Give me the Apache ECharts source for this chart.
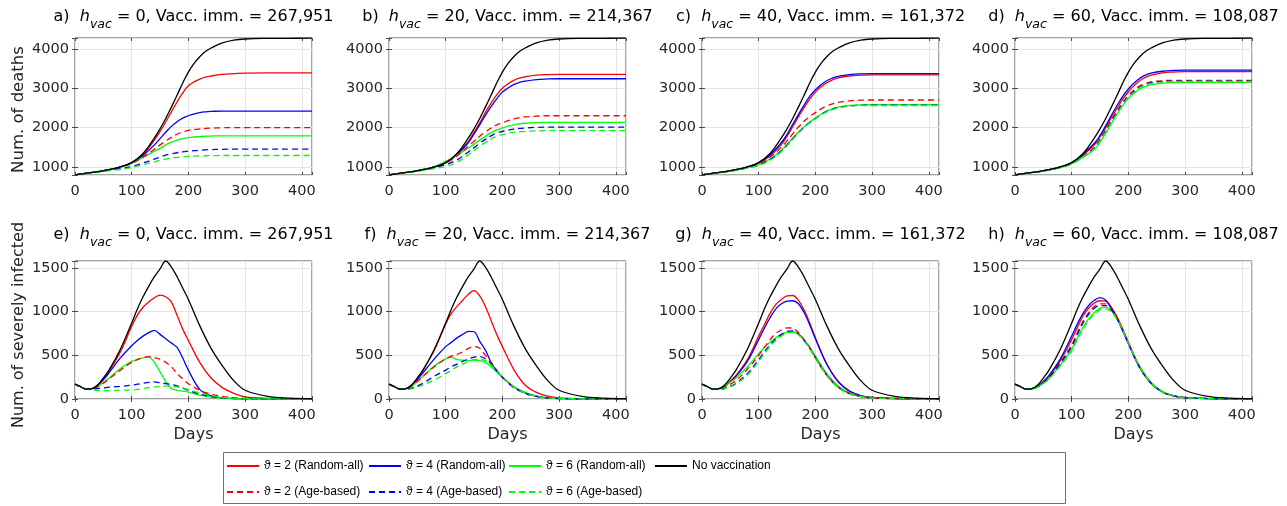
<!DOCTYPE html>
<html><head><meta charset="utf-8">
<script src="https://cdn.jsdelivr.net/npm/echarts@6/dist/echarts.min.js"></script>
<style>html,body{margin:0;padding:0;background:#fff}#c{width:1287px;height:506px}</style>
</head><body><div id="c"></div>
<script>
// ---------- data ----------
const DAYS_D = [0,20,40,60,80,100,120,140,150,160,170,180,190,200,210,220,230,240,260,280,300,340,380,418];
const DAYS_I = [0,10,20,30,40,50,60,80,100,110,120,130,140,150,160,170,180,190,200,220,240,260,280,300,340,380,418];

const noVacDeaths = [800,840,880,930,1000,1110,1340,1740,1970,2230,2520,2820,3130,3410,3630,3800,3930,4020,4150,4220,4250,4265,4268,4270];
const noVacInf = [170,140,112,118,160,240,330,570,870,1030,1170,1290,1400,1490,1580,1510,1400,1270,1140,840,580,380,210,100,30,10,3];

const dA_R2 = [800,840,880,930,1000,1110,1310,1680,1900,2140,2400,2650,2880,3060,3160,3230,3280,3310,3350,3370,3385,3390,3390,3390];
const dA_R4 = [800,840,880,930,1000,1110,1290,1560,1720,1880,2030,2150,2240,2300,2345,2380,2400,2410,2420,2420,2420,2420,2420,2420];
const dA_R6 = [800,840,880,925,990,1090,1240,1400,1470,1560,1630,1680,1720,1745,1760,1770,1779,1785,1790,1790,1790,1790,1790,1790];
const dA_A2 = [800,840,880,925,990,1090,1250,1450,1560,1660,1750,1830,1890,1930,1950,1965,1977,1985,1995,2000,2000,2000,2000,2000];
const dA_A4 = [800,840,875,915,955,1010,1100,1200,1250,1300,1335,1360,1385,1400,1414,1425,1434,1440,1448,1450,1450,1450,1450,1450];
const dA_A6 = [800,835,870,905,935,985,1060,1130,1170,1200,1225,1240,1255,1265,1273,1280,1284,1287,1290,1290,1290,1290,1290,1290];

const dB_R2 = [800,840,880,930,1000,1110,1320,1650,1880,2120,2380,2620,2830,3000,3110,3200,3255,3290,3330,3345,3350,3350,3350,3350];
const dB_R4 = [800,840,880,930,1000,1110,1310,1620,1840,2070,2310,2530,2730,2900,3005,3090,3145,3180,3220,3235,3240,3240,3240,3240];
const dB_R6 = [800,840,880,935,1010,1140,1300,1480,1580,1680,1780,1870,1940,1990,2035,2070,2095,2110,2125,2130,2130,2130,2130,2130];
const dB_A2 = [800,840,880,930,1000,1100,1280,1530,1650,1780,1890,1990,2070,2120,2175,2220,2250,2270,2290,2300,2300,2300,2300,2300];
const dB_A4 = [800,835,875,920,980,1060,1180,1380,1490,1600,1700,1790,1860,1900,1935,1960,1978,1990,2005,2010,2010,2010,2010,2010];
const dB_A6 = [800,835,870,910,960,1010,1120,1310,1420,1530,1620,1710,1780,1820,1855,1880,1895,1905,1915,1920,1920,1920,1920,1920];

const dC_R2 = [800,840,880,930,995,1100,1280,1570,1780,2020,2270,2500,2720,2900,3035,3140,3210,3260,3310,3330,3340,3340,3340,3340];
const dC_R4 = [800,840,880,930,1000,1110,1310,1620,1830,2080,2330,2570,2790,2960,3090,3190,3255,3300,3345,3365,3370,3370,3370,3370];
const dC_R6 = [800,840,875,920,980,1060,1200,1420,1570,1730,1880,2020,2140,2240,2340,2420,2475,2520,2560,2575,2580,2580,2580,2580];
const dC_A2 = [800,840,878,925,985,1080,1250,1500,1660,1840,2010,2160,2280,2380,2475,2550,2600,2640,2680,2695,2700,2700,2700,2700];
const dC_A4 = [800,838,875,918,975,1050,1190,1410,1560,1720,1870,2010,2130,2230,2330,2410,2465,2510,2550,2565,2570,2570,2570,2570];
const dC_A6 = [800,836,872,915,970,1040,1170,1390,1540,1700,1860,2000,2120,2220,2320,2400,2455,2500,2545,2558,2560,2560,2560,2560];

const dD_R2 = [800,840,880,930,1000,1105,1300,1560,1760,2000,2250,2490,2720,2910,3065,3190,3275,3330,3390,3410,3420,3420,3420,3420];
const dD_R4 = [800,840,880,930,1000,1110,1320,1600,1800,2050,2310,2560,2790,2980,3130,3250,3330,3380,3430,3450,3460,3460,3460,3460];
const dD_R6 = [800,838,876,922,985,1080,1250,1450,1630,1860,2100,2340,2560,2740,2870,2980,3045,3090,3130,3145,3150,3150,3150,3150];
const dD_A2 = [800,840,878,926,992,1090,1270,1500,1700,1940,2190,2420,2640,2820,2955,3060,3120,3160,3190,3200,3200,3200,3200,3200];
const dD_A4 = [800,839,877,924,988,1085,1260,1480,1680,1910,2160,2390,2600,2780,2915,3030,3095,3140,3170,3180,3180,3180,3180,3180];
const dD_A6 = [800,838,876,922,986,1080,1255,1470,1660,1890,2130,2360,2580,2760,2895,3010,3075,3120,3155,3165,3170,3170,3170,3170];

const iE_R2 = [170,140,112,118,160,235,320,540,830,960,1050,1110,1160,1190,1170,1110,960,800,670,420,240,130,65,25,8,3,1];
const iE_R4 = [170,140,112,118,155,220,300,470,610,670,720,760,785,740,690,640,590,470,330,110,35,12,5,2,0,0,0];
const iE_R6 = [170,140,112,118,145,190,240,350,430,455,470,480,420,310,200,120,100,90,80,45,22,10,5,2,0,0,0];
const iE_A2 = [170,140,112,115,140,180,230,330,420,450,475,485,475,455,420,370,290,230,175,100,55,30,15,7,3,1,0];
const iE_A4 = [170,140,115,115,120,125,135,145,158,170,180,190,196,185,177,165,150,125,100,55,28,12,5,2,0,0,0];
const iE_A6 = [170,140,112,105,98,95,95,100,102,110,120,130,138,145,148,145,138,125,108,70,38,17,8,4,1,0,0];

const iF_R2 = [170,140,112,118,160,240,330,560,860,980,1060,1130,1200,1240,1180,1060,900,740,600,340,160,75,32,12,4,1,0];
const iF_R4 = [170,140,112,118,155,220,300,460,600,650,700,740,775,770,660,560,420,320,250,140,70,30,14,5,2,0,0];
const iF_R6 = [170,140,112,118,150,200,260,380,460,480,450,445,440,445,440,420,370,310,250,140,75,35,15,6,2,0,0];
const iF_A2 = [170,140,112,118,150,200,260,370,460,490,510,540,580,600,580,500,420,330,250,140,70,30,14,5,2,0,0];
const iF_A4 = [170,140,112,115,125,150,180,260,330,370,400,430,460,480,485,460,400,320,250,130,65,30,13,5,2,0,0];
const iF_A6 = [170,140,112,110,115,135,160,220,290,330,370,400,430,450,455,440,390,320,250,135,65,30,13,5,2,0,0];

const iG_R2 = [170,140,112,118,150,205,270,450,720,850,980,1080,1140,1180,1185,1130,1020,870,700,400,200,90,40,18,6,2,1];
const iG_R4 = [170,140,112,118,145,200,260,430,680,810,930,1030,1090,1120,1125,1090,990,850,690,400,200,90,40,18,6,2,1];
const iG_R6 = [170,140,112,118,150,195,240,370,520,590,650,700,740,765,770,740,680,590,490,290,150,70,32,14,5,2,0];
const iG_A2 = [170,140,112,115,135,170,210,340,500,590,680,750,790,815,810,760,680,590,480,280,140,65,30,12,4,1,0];
const iG_A4 = [170,140,112,110,120,145,180,290,450,540,620,690,740,775,780,745,670,580,470,270,135,60,28,12,4,1,0];
const iG_A6 = [170,140,112,110,118,140,170,275,430,520,600,670,720,755,765,735,665,575,465,268,132,58,27,11,4,1,0];

const iH_R2 = [170,140,112,118,142,195,260,440,680,820,950,1040,1100,1125,1120,1050,940,800,650,370,185,82,36,15,5,2,0];
const iH_R4 = [170,140,112,118,145,200,270,460,720,860,980,1070,1130,1160,1130,1040,920,780,630,360,180,80,35,15,5,2,0];
const iH_R6 = [170,140,112,115,138,180,235,390,570,700,820,920,990,1040,1050,1010,920,790,640,370,190,85,38,16,5,2,0];
const iH_A2 = [170,140,112,115,140,190,250,420,620,760,890,990,1060,1090,1090,1030,930,790,640,360,180,80,35,15,5,2,0];
const iH_A4 = [170,140,112,115,140,185,245,410,600,740,870,970,1040,1070,1070,1020,920,785,635,360,180,80,35,15,5,2,0];
const iH_A6 = [170,140,112,114,136,178,230,380,550,680,800,900,970,1020,1030,995,910,785,635,365,185,82,36,15,5,2,0];

const PANEL_LETTERS = ['a','b','c','d','e','f','g','h'];
const H_VAC = [0,20,40,60];
const VACC_IMM = ['267,951','214,367','161,372','108,087'];
const SERIES_NAMES = ['ϑ = 2 (Random-all)','ϑ = 4 (Random-all)','ϑ = 6 (Random-all)','ϑ = 2 (Age-based)','ϑ = 4 (Age-based)','ϑ = 6 (Age-based)','No vaccination'];
const Y_NAMES = ['Num. of deaths','Num. of severely infected'];
const X_NAME = 'Days';

// ---------- assembly ----------
const panelData = [
  [dA_R2,dA_R4,dA_R6,dA_A2,dA_A4,dA_A6,noVacDeaths],
  [dB_R2,dB_R4,dB_R6,dB_A2,dB_A4,dB_A6,noVacDeaths],
  [dC_R2,dC_R4,dC_R6,dC_A2,dC_A4,dC_A6,noVacDeaths],
  [dD_R2,dD_R4,dD_R6,dD_A2,dD_A4,dD_A6,noVacDeaths],
  [iE_R2,iE_R4,iE_R6,iE_A2,iE_A4,iE_A6,noVacInf],
  [iF_R2,iF_R4,iF_R6,iF_A2,iF_A4,iF_A6,noVacInf],
  [iG_R2,iG_R4,iG_R6,iG_A2,iG_A4,iG_A6,noVacInf],
  [iH_R2,iH_R4,iH_R6,iH_A2,iH_A4,iH_A6,noVacInf]
];
const COLORS = ['#ff0000','#0000ff','#00ff00','#ff0000','#0000ff','#00ff00','#000000'];
const DASHED = [false,false,false,true,true,true,false];

const COL_LEFT = [75, 389, 702, 1015];
const COL_W = 237;
const ROW_TOP = [38, 261];
const ROW_H = [137, 138];
const AX_FONT = 'DejaVu Sans';
const AX_COLOR = '#262626';
const GRID_COLOR = '#e3e3e3';
const BOX_COLOR = '#4a4a4a';

const grids = [], xAxes = [], yAxes = [], series = [], graphics = [];

for (let p = 0; p < 8; p++) {
  const row = p < 4 ? 0 : 1, col = p % 4;
  grids.push({left: COL_LEFT[col], top: ROW_TOP[row], width: COL_W, height: ROW_H[row],
    show: true, borderColor: BOX_COLOR, borderWidth: 1, backgroundColor: '#ffffff'});
}
const xBase = (p) => ({type: 'value', gridIndex: p, min: 0, max: 418, interval: 100});
const yBase = (p) => p < 4
  ? {type: 'value', gridIndex: p, min: 795, max: 4275, minInterval: 1000, maxInterval: 1000}
  : {type: 'value', gridIndex: p, min: 0, max: 1580, interval: 500};

for (let p = 0; p < 8; p++) {
  const yStep = p < 4 ? 1000 : 500;
  xAxes.push(Object.assign(xBase(p), {position: 'bottom',
    axisLine: {show: false},
    axisTick: {show: true, inside: true, length: 3, lineStyle: {color: BOX_COLOR}},
    axisLabel: {margin: 9, fontFamily: AX_FONT, fontSize: 14.5, color: AX_COLOR,
      formatter: v => (v % 100 === 0 ? String(v) : '')},
    splitLine: {show: true, lineStyle: {color: GRID_COLOR, width: 1}}}));
  yAxes.push(Object.assign(yBase(p), {position: 'left',
    axisLine: {show: false},
    axisTick: {show: true, inside: true, length: 3, lineStyle: {color: BOX_COLOR}},
    axisLabel: {margin: 6, fontFamily: AX_FONT, fontSize: 14.5, color: AX_COLOR,
      formatter: v => (v % yStep === 0 ? String(v) : '')},
    splitLine: {show: true, lineStyle: {color: GRID_COLOR, width: 1}}}));
}
// mirrored ticks on top / right (box style)
for (let p = 0; p < 8; p++) {
  xAxes.push(Object.assign(xBase(p), {position: 'top',
    axisLine: {show: false}, axisLabel: {show: false}, splitLine: {show: false},
    axisTick: {show: true, inside: true, length: 3, lineStyle: {color: BOX_COLOR}}}));
  yAxes.push(Object.assign(yBase(p), {position: 'right',
    axisLine: {show: false}, axisLabel: {show: false}, splitLine: {show: false},
    axisTick: {show: true, inside: true, length: 3, lineStyle: {color: BOX_COLOR}}}));
}

for (let p = 0; p < 8; p++) {
  const days = p < 4 ? DAYS_D : DAYS_I;
  for (let k = 0; k < 7; k++) {
    const vals = panelData[p][k];
    series.push({
      type: 'line', name: SERIES_NAMES[k], xAxisIndex: p, yAxisIndex: p,
      data: days.map((d, j) => [d, vals[j]]),
      symbol: 'none', showSymbol: false, smooth: p < 4 ? 0.45 : 0.35, animation: false,
      lineStyle: {color: COLORS[k], width: 1.3, type: DASHED[k] ? [6, 4] : 'solid'},
      itemStyle: {color: COLORS[k]},
      z: 2 + k
    });
  }
}

// titles
for (let p = 0; p < 8; p++) {
  const row = p < 4 ? 0 : 1, col = p % 4;
  graphics.push({
    type: 'text', x: COL_LEFT[col] + COL_W / 2, y: row === 0 ? 17 : 235,
    style: {
      text: '{n|' + PANEL_LETTERS[p] + ')  }{i|h}{s|vac}{n| = ' + H_VAC[col] + ', Vacc. imm. = ' + VACC_IMM[col] + '}',
      align: 'center', verticalAlign: 'middle',
      rich: {
        n: {fontFamily: AX_FONT, fontSize: 16, lineHeight: 28, verticalAlign: 'middle', fill: '#000'},
        i: {fontFamily: AX_FONT, fontSize: 16, fontStyle: 'italic', lineHeight: 28, verticalAlign: 'middle', fill: '#000'},
        s: {fontFamily: AX_FONT, fontSize: 12.5, fontStyle: 'italic', lineHeight: 10, verticalAlign: 'bottom', fill: '#000'}
      }
    }
  });
}
// axis names
graphics.push({type: 'text', x: 19, y: ROW_TOP[0] + ROW_H[0] / 2 + 3, rotation: Math.PI / 2,
  style: {text: Y_NAMES[0], align: 'center', verticalAlign: 'middle', font: '16.5px "DejaVu Sans"', fill: AX_COLOR}});
graphics.push({type: 'text', x: 19, y: ROW_TOP[1] + ROW_H[1] / 2 - 5, rotation: Math.PI / 2,
  style: {text: Y_NAMES[1], align: 'center', verticalAlign: 'middle', font: '16px "DejaVu Sans"', fill: AX_COLOR}});
for (let c = 0; c < 4; c++) {
  graphics.push({type: 'text', x: COL_LEFT[c] + COL_W / 2, y: 435,
    style: {text: X_NAME, align: 'center', verticalAlign: 'middle', font: '16px "DejaVu Sans"', fill: AX_COLOR}});
}
// legend frame
graphics.push({type: 'rect', shape: {x: 223.5, y: 452.5, width: 842, height: 51},
  style: {fill: 'none', stroke: '#6e6e6e', lineWidth: 1}});

const LEGEND_COLS = [[SERIES_NAMES[0], SERIES_NAMES[3]], [SERIES_NAMES[1], SERIES_NAMES[4]], [SERIES_NAMES[2], SERIES_NAMES[5]], [SERIES_NAMES[6]]];
const LEGEND_LEFT = [226, 368, 508, 654];
const legends = LEGEND_COLS.map((data, k) => ({
  data: data, left: LEGEND_LEFT[k], top: 458, orient: 'vertical', padding: 0,
  itemWidth: 32, itemHeight: 14, itemGap: 10, selectedMode: false,
  itemStyle: {opacity: 0},
  textStyle: {fontFamily: '"Liberation Sans", Arial, sans-serif', fontSize: 12, color: '#000', lineHeight: 16}
}));

const chart = echarts.init(document.getElementById('c'), null, {renderer: 'canvas'});
chart.setOption({
  animation: false,
  backgroundColor: '#ffffff',
  grid: grids, xAxis: xAxes, yAxis: yAxes, series: series,
  legend: legends, graphic: graphics
});
</script></body></html>
